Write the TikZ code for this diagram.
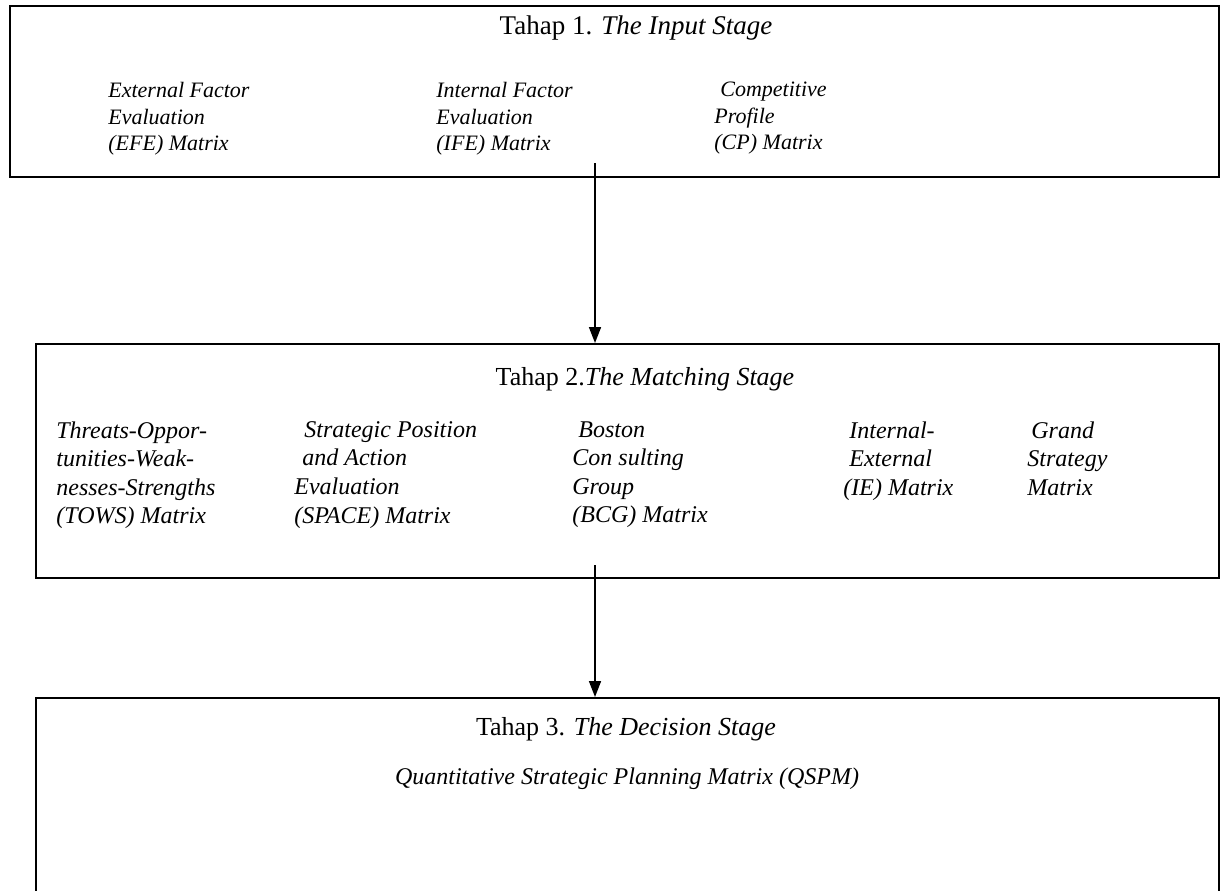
\documentclass[tikz,border=0pt]{standalone}
\usepackage{fontspec}
\setmainfont{Liberation Serif}
\usetikzlibrary{arrows.meta}
\begin{document}
\begin{tikzpicture}[x=0.5pt,y=-0.5pt,
  stagebox/.style={draw=black, line width=1pt, anchor=north west, inner sep=0pt},
  title/.style={anchor=base, inner sep=0pt, font=\fontsize{13pt}{15pt}\selectfont},
  col/.style={anchor=north west, inner sep=0pt, align=left,
    font=\fontsize{11pt}{13.25pt}\selectfont\itshape},
  colb/.style={col, font=\fontsize{12pt}{14.3pt}\selectfont\itshape},
  flow/.style={line width=0.8pt, -{Triangle[length=8pt,width=6pt]}}]
\useasboundingbox (0,0) rectangle (1224,890);
\clip (0,0) rectangle (1224,890);

% stage 1: input
\node[stagebox, minimum width=604.5pt, minimum height=85.5pt] (s1) at (9,5) {};
\node[title, font=\fontsize{13.5pt}{15pt}\selectfont] (t1) at (636,34) {Tahap 1. \textit{The Input Stage}};
\node[col] (efe) at (108,82) {External Factor\\Evaluation\\(EFE) Matrix};
\node[col] (ife) at (436,82) {Internal Factor\\Evaluation\\(IFE) Matrix};
\node[col] (cp) at (714,82) {\hspace*{3pt}Competitive\\Profile\\(CP) Matrix};

% stage 2: matching
\node[stagebox, minimum width=591.5pt, minimum height=117pt] (s2) at (35,343) {};
\node[title] (t2) at (645,385) {Tahap 2.\textit{The Matching Stage}};
\node[colb] (tows) at (56,421) {Threats-Oppor-\\tunities-Weak-\\nesses-Strengths\\(TOWS) Matrix};
\node[colb] (space) at (294,421) {\hspace*{5pt}Strategic Position\\\hspace*{4pt}and Action\\Evaluation\\(SPACE) Matrix};
\node[colb] (bcg) at (572,421) {\hspace*{3pt}Boston\\Con sulting\\Group\\(BCG) Matrix};
\node[colb] (ie) at (843,421) {\hspace*{3pt}Internal-\\\hspace*{3pt}External\\(IE) Matrix};
\node[colb] (gsm) at (1027,421) {\hspace*{2pt}Grand\\Strategy\\Matrix};

% stage 3: decision
\node[stagebox, minimum width=591.5pt, minimum height=120pt] (s3) at (35,697) {};
\node[title] (t3) at (626,735) {Tahap 3. \textit{The Decision Stage}};
\node[title, font=\fontsize{12pt}{14pt}\selectfont\itshape] (qspm) at (627,784)
  {Quantitative Strategic Planning Matrix (QSPM)};

% flow between stages
\coordinate (a1) at (595,163);
\coordinate (a2) at (595,565);
\draw[flow] (a1) -- (a1 |- s2.north);
\draw[flow] (a2) -- (a2 |- s3.north);
\end{tikzpicture}
\end{document}
